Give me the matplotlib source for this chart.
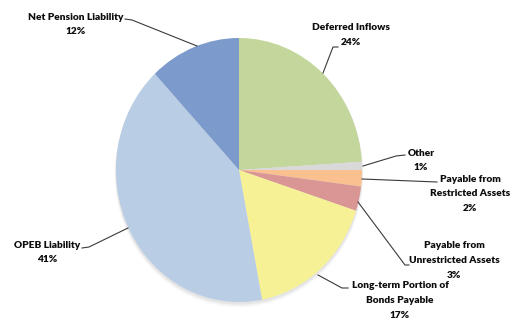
import matplotlib
matplotlib.use("Agg")
import matplotlib.pyplot as plt
from matplotlib.patches import Ellipse

# ---- data ----
categories = ["Deferred Inflows", "Other", "Payable from\nRestricted Assets",
              "Payable from\nUnrestricted Assets", "Long-term Portion of\nBonds Payable",
              "OPEB Liability", "Net Pension Liability"]
values = [24, 1, 2, 3, 17, 41, 12]
colors = ["#c3d69b", "#d9d9d9", "#fac090", "#d99694", "#f7f196", "#b9cde5", "#7c9acb"]

W, H = 513, 320
RX, RY = 123, 132          # pixel radii of the (slightly elliptical) pie
CX, CY = 239, 170          # pixel centre
SX = RY / RX               # x stretch so pie radius RY in data units

fig = plt.figure(figsize=(W / 100, H / 100), dpi=100)
ax = fig.add_axes([0, 0, 1, 1])
ax.pie(values, colors=colors, startangle=90, counterclock=False,
       radius=RY, center=(CX * SX, H - CY),
       wedgeprops=dict(linewidth=0, antialiased=True), frame=False)
ax.set_aspect('auto')
ax.set_xlim(0, W * SX)
ax.set_ylim(0, H)
ax.axis('off')

# soft shadow
for i, a in enumerate([0.10, 0.07, 0.04]):
    e = Ellipse((CX * SX, H - CY - 2 - i), 2 * RY + 1 + i, 2 * RY + 1 + i,
                facecolor="#808080", edgecolor="none", alpha=a, zorder=0)
    ax.add_patch(e)

# overlay axes in pixel coordinates for labels
ov = fig.add_axes([0, 0, 1, 1])
ov.set_xlim(0, W)
ov.set_ylim(H, 0)
ov.axis('off')
ov.patch.set_alpha(0)

fam = ["Lato", "DejaVu Sans"]
fs = 7.3
tc = "#0d0d0d"
lc = "#3a3a3a"

labels = [
    # text lines, x centre, first line y, leader points
    ([categories[6], f"{values[6]}%"], 76, 17, [(125, 19), (132, 20), (197, 46)]),
    ([categories[0], f"{values[0]}%"], 351, 28, [(338, 47), (333, 47), (323, 73)]),
    (["Other", f"{values[1]}%"], 421, 153, [(405, 155), (396, 156), (363, 166)]),
    (["Payable from", "Restricted Assets", f"{values[2]}%"], 470, 179, [(362, 179), (437, 182)]),
    (["Payable from", "Unrestricted Assets", f"{values[3]}%"], 454, 246, [(358, 202), (405, 265), (409, 265)]),
    (["Long-term Portion of", "Bonds Payable", f"{values[4]}%"], 400, 286, [(318, 275), (342, 288), (348, 288)]),
    (["OPEB Liability", f"{values[5]}%"], 47, 245, [(128, 228), (89, 247), (82, 248)]),
]
for lines, x, y, pts in labels:
    for j, t in enumerate(lines):
        ov.text(x, y + j * 14.6, t, ha="center", va="center", fontsize=fs,
                fontweight="heavy", family=fam, color=tc)
    ov.plot([p[0] for p in pts], [p[1] for p in pts], color=lc, lw=0.8)

fig.savefig("out.png", dpi=100)
